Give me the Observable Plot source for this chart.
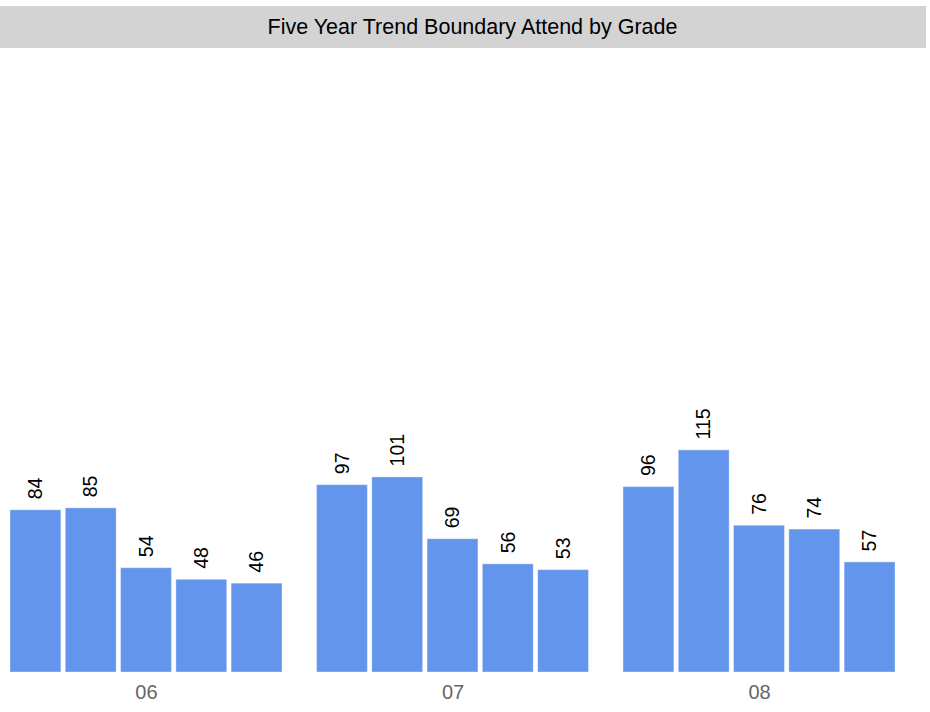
<!DOCTYPE html>
<html>
<head>
<meta charset="utf-8">
<script src="https://cdn.jsdelivr.net/npm/d3@7"></script>
<script src="https://cdn.jsdelivr.net/npm/@observablehq/plot@0.6"></script>
<style>
  body { margin: 0; background: #fff; font-family: "Liberation Sans", Arial, sans-serif; }
  #title { margin-top: 6px; width: 926px; height: 42px; line-height: 42px; background: #d3d3d3;
           font-size: 21.5px; color: #000; text-align: center; box-sizing: border-box; padding-left: 19px; }
</style>
</head>
<body>
<div id="title">Five Year Trend Boundary Attend by Grade</div>
<div id="chart"></div>
<script>
const grades = ["06", "07", "08"];
const years = ["Y1", "Y2", "Y3", "Y4", "Y5"];
const counts06 = [84, 85, 54, 48, 46];
const counts07 = [97, 101, 69, 56, 53];
const counts08 = [96, 115, 76, 74, 57];

const series = {"06": counts06, "07": counts07, "08": counts08};
const data = grades.flatMap(g => years.map((yr, i) => ({grade: g, year: yr, value: series[g][i]})));

const chart = Plot.plot({
  width: 930,
  height: 664,
  marginLeft: 10,
  marginRight: 35,
  marginTop: 6,
  marginBottom: 40,
  style: {fontFamily: "'Liberation Sans', Arial, sans-serif", background: "#fff"},
  fx: {domain: grades, paddingInner: 0.1126, paddingOuter: 0, round: false, label: null},
  x: {domain: years, paddingInner: 0.08, paddingOuter: 0, round: false, axis: null},
  y: {domain: [0, 320], axis: null},
  marks: [
    Plot.barY(data, {fx: "grade", x: "year", y: "value", fill: "#6495ED", stroke: "#ffffff", strokeOpacity: 0.35, strokeWidth: 1}),
    Plot.text(data, {fx: "grade", x: "year", y: "value", text: d => String(d.value), rotate: -90, textAnchor: "start", dy: -11, fontSize: 19.5, fill: "#000"}),
    Plot.axisFx({anchor: "bottom", tickSize: 0, tickPadding: 12, fontSize: 20, color: "#666", label: null})
  ]
});
document.getElementById("chart").appendChild(chart);
</script>
</body>
</html>
